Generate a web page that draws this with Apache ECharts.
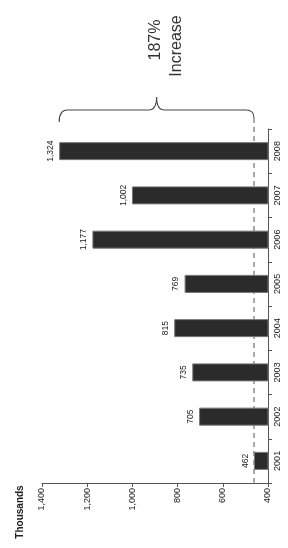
<!DOCTYPE html>
<html>
<head>
<meta charset="utf-8">
<script src="https://cdn.jsdelivr.net/npm/echarts@6/dist/echarts.min.js"></script>
<style>
  html, body { margin: 0; padding: 0; background: #fff; }
  #chart { width: 288px; height: 548px; }
</style>
</head>
<body>
<div id="chart"></div>
<script>
// data (thousands)
var years = ['2001', '2002', '2003', '2004', '2005', '2006', '2007', '2008'];
var values = [462, 705, 735, 815, 769, 1177, 1002, 1324];
var increaseText = ['187%', 'Increase'];

var fontFam = 'Arial, "Liberation Sans", sans-serif';

var myChart = echarts.init(document.getElementById('chart'));

myChart.setOption({
    animation: false,
    grid: { left: 42, right: 20, top: 129, bottom: 65, containLabel: false },
    xAxis: {
        type: 'value',
        min: 400,
        max: 1400,
        interval: 200,
        inverse: true,
        position: 'bottom',
        splitLine: { show: false },
        axisLine: { show: true, lineStyle: { color: '#555', width: 1 } },
        axisTick: { show: true, length: 4, lineStyle: { color: '#555' } },
        axisLabel: {
            rotate: 90,
            color: '#222',
            fontSize: 9,
            fontFamily: fontFam,
            margin: 5,
            formatter: function (v) { return v.toLocaleString('en-US'); }
        }
    },
    yAxis: {
        type: 'category',
        data: years,
        position: 'right',
        axisLine: { show: true, lineStyle: { color: '#555', width: 1 } },
        axisTick: { show: true, length: 4, lineStyle: { color: '#555' } },
        axisLabel: {
            rotate: 90,
            color: '#222',
            fontSize: 9,
            fontFamily: fontFam,
            margin: 5
        }
    },
    series: [{
        type: 'bar',
        data: values,
        barWidth: 18,
        itemStyle: { color: '#2b2b2b', borderColor: '#777', borderWidth: 1 },
        label: {
            show: true,
            position: 'left',
            rotate: 90,
            align: 'center',
            verticalAlign: 'bottom',
            distance: 4,
            color: '#222',
            fontSize: 8.5,
            fontFamily: fontFam,
            formatter: function (p) { return p.value.toLocaleString('en-US'); }
        }
    }]
});

// bracket + dashed line, positioned from the axis scale
var startVal = values[0];
var endVal = values[values.length - 1];
var xStart = myChart.convertToPixel({ xAxisIndex: 0 }, startVal);
var xEnd = myChart.convertToPixel({ xAxisIndex: 0 }, endVal);
var axisY = myChart.convertToPixel({ yAxisIndex: 0 }, years[0]) + 22;
var xMid = (xStart + xEnd) / 2;
var yBase = 118, yBar = 110, yTip = 97;

var braceStyle = { stroke: '#444', lineWidth: 1.1, fill: null };
function curve(x1, y1, cx, cy, x2, y2) {
    return { type: 'bezierCurve', shape: { x1: x1, y1: y1, cpx1: cx, cpy1: cy, x2: x2, y2: y2 }, style: braceStyle };
}
function seg(x1, y1, x2, y2) {
    return { type: 'line', shape: { x1: x1, y1: y1, x2: x2, y2: y2 }, style: braceStyle };
}

myChart.setOption({
    graphic: [
        {
            type: 'line',
            shape: { x1: xStart, y1: yBase, x2: xStart, y2: axisY },
            style: { stroke: '#555', lineWidth: 1, lineDash: [5, 4] }
        },
        curve(xStart, yBase, xStart, yBar, xStart - 8, yBar),
        seg(xStart - 8, yBar, xMid + 8, yBar),
        curve(xMid + 8, yBar, xMid, yBar, xMid, yTip),
        curve(xMid, yTip, xMid, yBar, xMid - 8, yBar),
        seg(xMid - 8, yBar, xEnd + 8, yBar),
        curve(xEnd + 8, yBar, xEnd, yBar, xEnd, yBase + 4),
        {
            type: 'text',
            x: 156, y: 40,
            rotation: Math.PI / 2,
            style: {
                text: increaseText[0], fill: '#333', fontSize: 16,
                fontFamily: fontFam, align: 'center', verticalAlign: 'middle'
            }
        },
        {
            type: 'text',
            x: 177, y: 46,
            rotation: Math.PI / 2,
            style: {
                text: increaseText[1], fill: '#333', fontSize: 16,
                fontFamily: fontFam, align: 'center', verticalAlign: 'middle'
            }
        },
        {
            type: 'text',
            x: 20, y: 512,
            rotation: Math.PI / 2,
            style: {
                text: 'Thousands', fill: '#222', fontSize: 10, fontWeight: 'bold',
                fontFamily: fontFam, align: 'center', verticalAlign: 'middle'
            }
        }
    ]
});
</script>
</body>
</html>
